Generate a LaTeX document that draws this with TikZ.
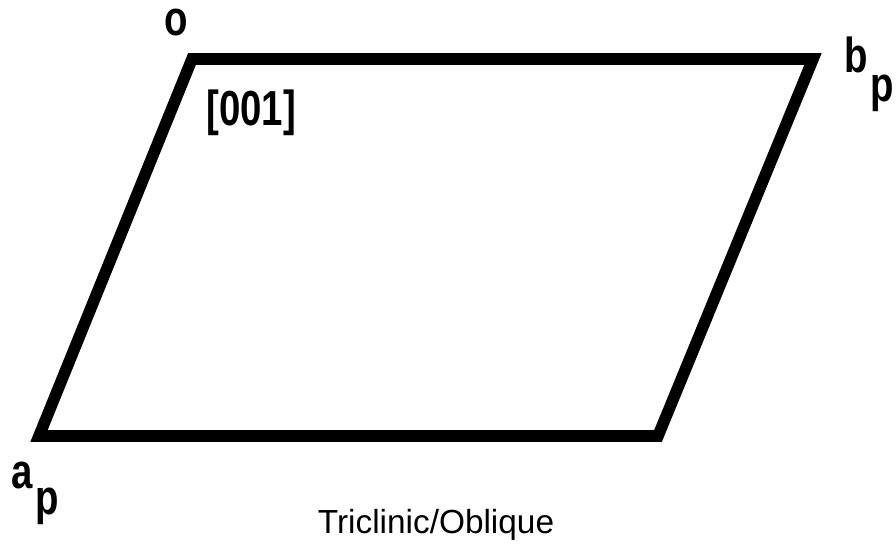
\documentclass[tikz,border=0pt]{standalone}
\usepackage{fontspec}
\usepackage{tikz}
\newfontfamily\lblfont[FakeStretch=0.78]{Liberation Sans}
\newfontfamily\capfont{Liberation Sans}

\tikzset{
  lbl/.style={font=\lblfont\bfseries\fontsize{28}{30}\selectfont, inner sep=0pt},
  cell/.style={line width=6.6pt, line join=miter},
  capt/.style={font=\capfont\fontsize{19}{21}\selectfont, inner sep=0pt}
}

\begin{document}
\begin{tikzpicture}[x=0.02cm,y=-0.02cm]
    \useasboundingbox (0,0) rectangle (896,545);
    % corners of the oblique cell
    \coordinate (o) at (192,59);
    \coordinate (b) at (813,59);
    \coordinate (c) at (658,436);
    \coordinate (a) at (39,436);
    \draw[cell] (o) -- (b) -- (c) -- (a) -- cycle;

    \node[lbl] (olbl) at (176,23) {o};
    \node[lbl,anchor=base west] (zone) at (206,125) {[001]};
    \node[lbl,anchor=base west] (blbl) at (844,72) {b\kern1.5pt\raisebox{-1.15ex}{p}};
    \node[lbl,anchor=base west] (albl) at (11,488) {a\kern1.5pt\raisebox{-1.0ex}{p}};
    \node[capt,anchor=base] (title) at (436,533) {Triclinic/Oblique};
\end{tikzpicture}
\end{document}
